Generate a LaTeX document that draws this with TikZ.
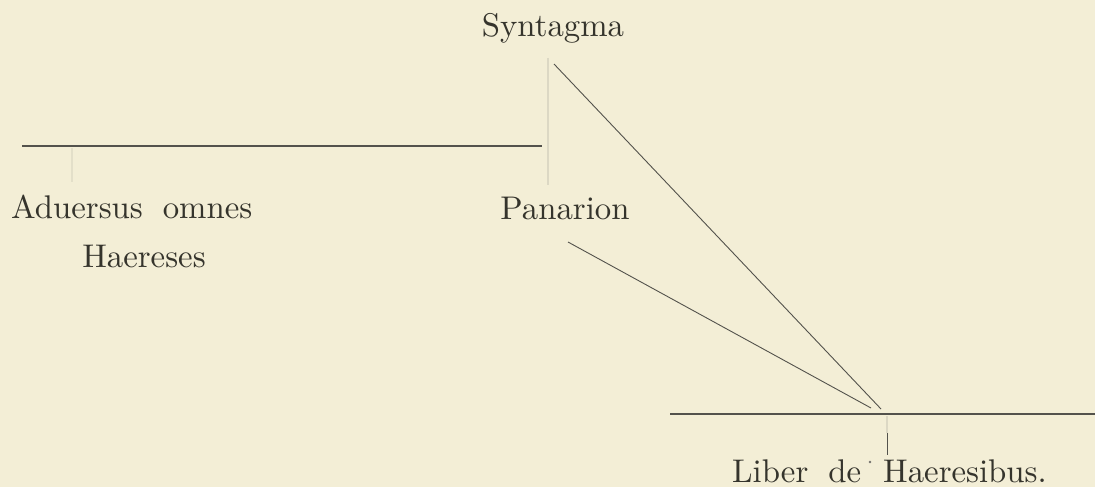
\documentclass[tikz,border=0pt]{standalone}
\usepackage{fontspec}
\newfontfamily\oldfont{lmroman10-regular.otf}
\definecolor{paper}{HTML}{F3EED6}
\definecolor{ink}{HTML}{35342C}
\definecolor{faint}{HTML}{DCD8C4}
\begin{document}
\begin{tikzpicture}[x=1pt,y=-1pt,
  lbl/.style={inner sep=0pt, text=ink, font=\oldfont\fontsize{32.8}{38}\selectfont},
  rule/.style={draw=ink!85, line width=1.1pt},
  thinline/.style={draw=ink!85, line width=0.9pt},
  ghost/.style={draw=faint, line width=2.5pt}]
\fill[paper] (0,0) rectangle (1095,487);
\useasboundingbox (0,0) rectangle (1095,487);
% texts
\node[lbl, anchor=base] (syn) at (553,37) {Syntagma};
\node[lbl, anchor=base] (pan) at (565,219) {Panarion};
\node[lbl, anchor=base west] (adv) at (11,218) {Aduersus\hspace{20pt}omnes};
\node[lbl, anchor=base] (hae) at (144,267) {Haereses};
\node[lbl, anchor=base west] (lib) at (732,482) {Liber\hspace{20pt}de\hspace{22pt}Haeresibus.};
% coordinates
\coordinate (st) at (548,58);
\coordinate (sb) at (548,185);
\coordinate (da) at (554,64);
\coordinate (meet) at (881,409);
\coordinate (pa) at (568,242);
\coordinate (pb) at (871,408);
\coordinate (la) at (22,146);
\coordinate (lb) at (542,146);
\coordinate (lt1) at (72,148);
\coordinate (lt2) at (72,182);
\coordinate (ba) at (670,414);
\coordinate (bb) at (1095,414);
\coordinate (t1) at (887,416);
\coordinate (t2) at (887,433);
\coordinate (t3) at (887,455);
% lines
\draw[ghost] (st) -- (sb);
\draw[ghost, draw=faint!70!paper] (lt1) -- (lt2);
\draw[ghost] (t1) -- (t2);
\draw[rule] (la) -- (lb);
\draw[rule] (ba) -- (bb);
\draw[thinline] (da) -- (meet);
\draw[thinline] (pa) -- (pb);
\draw[thinline] (t2) -- (t3);
\fill[ink!70] (870,462) circle (1.3pt);
\end{tikzpicture}
\end{document}
